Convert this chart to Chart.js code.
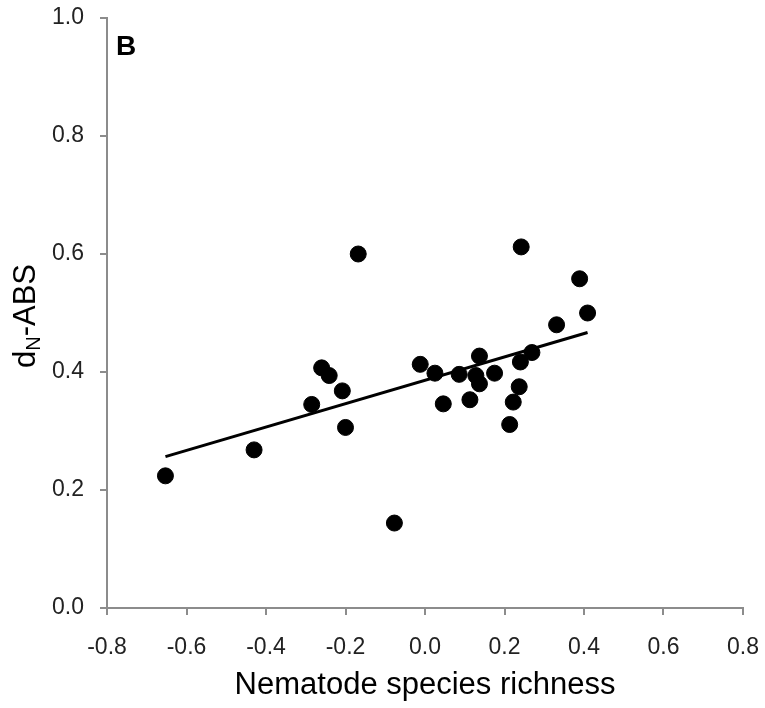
<!DOCTYPE html>
<html>
<head>
<meta charset="utf-8">
<script src="https://cdn.jsdelivr.net/npm/chart.js@4.4.1/dist/chart.umd.min.js"></script>
<style>
  html, body { margin: 0; padding: 0; background: #fff; }
  #wrap { width: 765px; height: 708px; }
</style>
</head>
<body>
<div id="wrap"><canvas id="chart" width="765" height="708"></canvas></div>
<script>
// valores (x = riqueza de nematodos, y = dN-ABS)
const richness = [-0.653, -0.430, -0.168, -0.260, -0.241, -0.208, -0.285, -0.200, -0.077,
    -0.012, 0.025, 0.046, 0.086, 0.113, 0.128, 0.137, 0.137, 0.175, 0.213, 0.222,
    0.237, 0.240, 0.242, 0.269, 0.331, 0.389, 0.409];
const dnAbs = [0.224, 0.268, 0.600, 0.407, 0.394, 0.368, 0.345, 0.306, 0.144,
    0.413, 0.398, 0.346, 0.396, 0.353, 0.394, 0.427, 0.380, 0.398, 0.311, 0.349,
    0.375, 0.417, 0.612, 0.433, 0.480, 0.558, 0.500];

// recta de regresion (extremos)
const fitX = [-0.653, 0.409];
const fitY = [0.2565, 0.467];

const xTicks = [-0.8, -0.6, -0.4, -0.2, 0.0, 0.2, 0.4, 0.6, 0.8];
const yTicks = [0.0, 0.2, 0.4, 0.6, 0.8, 1.0];

const FONT = "'Liberation Sans', Arial, Helvetica, sans-serif";
const AXIS_GRAY = '#8c8c8c';

// etiqueta del eje Y con subindice y la letra del panel
const extrasPlugin = {
    id: 'extras',
    afterDraw(chart) {
        const ctx = chart.ctx;
        ctx.save();
        ctx.fillStyle = '#000';
        ctx.textBaseline = 'alphabetic';

        // letra del panel
        ctx.font = 'bold 28px ' + FONT;
        ctx.textAlign = 'left';
        ctx.fillText('B', 116, 55);

        // titulo eje Y: d_N-ABS
        ctx.translate(35, 316);
        ctx.rotate(-Math.PI / 2);
        const big = '31px ' + FONT;
        const small = '20px ' + FONT;
        ctx.font = big;
        const wD = ctx.measureText('d').width;
        const wRest = ctx.measureText('-ABS').width;
        ctx.font = small;
        const wN = ctx.measureText('N').width;
        let x = -(wD + wN + wRest) / 2;
        ctx.font = big;
        ctx.fillText('d', x, 0);
        x += wD;
        ctx.font = small;
        ctx.fillText('N', x, 5);
        x += wN;
        ctx.font = big;
        ctx.fillText('-ABS', x, 0);
        ctx.restore();
    }
};

const points = richness.map((v, i) => ({ x: v, y: dnAbs[i] }));
const fitLine = fitX.map((v, i) => ({ x: v, y: fitY[i] }));

new Chart(document.getElementById('chart'), {
    type: 'scatter',
    data: {
        datasets: [
            {
                label: 'datos',
                data: points,
                backgroundColor: '#000',
                borderColor: '#000',
                pointRadius: 8,
                pointHoverRadius: 8,
            },
            {
                label: 'ajuste',
                data: fitLine,
                showLine: true,
                borderColor: '#000',
                borderWidth: 3,
                pointRadius: 0,
                fill: false,
            },
        ],
    },
    options: {
        responsive: false,
        animation: false,
        layout: { padding: { top: 18, right: 22, left: 0, bottom: 0 } },
        plugins: {
            legend: { display: false },
            tooltip: { enabled: false },
        },
        scales: {
            x: {
                type: 'linear',
                min: -0.8,
                max: 0.8,
                afterBuildTicks: (s) => { s.ticks = xTicks.map(v => ({ value: v })); },
                afterFit: (s) => {
                    s.height = 100;
                    s.paddingLeft = 0;
                    s.paddingRight = 0;
                },
                border: { color: AXIS_GRAY, width: 2 },
                grid: { drawOnChartArea: false, color: AXIS_GRAY, lineWidth: 2, tickLength: 7 },
                ticks: {
                    color: '#222',
                    font: { family: FONT, size: 23 },
                    padding: 19,
                    maxRotation: 0,
                    callback: (v) => v.toFixed(1),
                },
                title: {
                    display: true,
                    text: 'Nematode species richness',
                    color: '#000',
                    font: { family: FONT, size: 31 },
                    padding: { top: 0, bottom: 4 },
                },
            },
            y: {
                type: 'linear',
                min: 0,
                max: 1,
                afterBuildTicks: (s) => { s.ticks = yTicks.map(v => ({ value: v })); },
                afterFit: (s) => {
                    s.width = 107;
                    s.paddingTop = 0;
                    s.paddingBottom = 0;
                },
                border: { color: AXIS_GRAY, width: 2 },
                grid: { drawOnChartArea: false, color: AXIS_GRAY, lineWidth: 2, tickLength: 7 },
                ticks: {
                    color: '#222',
                    font: { family: FONT, size: 23 },
                    padding: 16,
                    callback: (v) => v.toFixed(1),
                },
            },
        },
    },
    plugins: [extrasPlugin],
});
</script>
</body>
</html>
